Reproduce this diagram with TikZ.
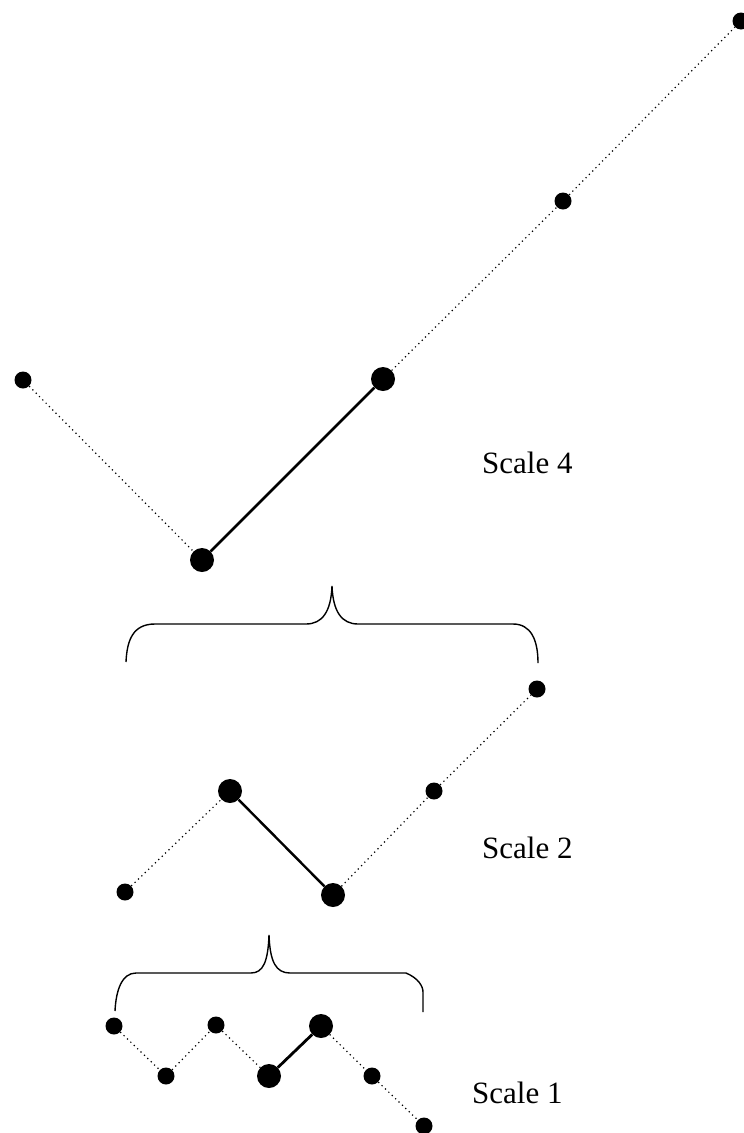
\documentclass[tikz,border=0pt]{standalone}
\usepackage{fontspec}
\setmainfont{Liberation Serif}
\begin{document}
\begin{tikzpicture}[x=1pt,y=-1pt,
  sdot/.style={circle,fill=black,inner sep=0pt,minimum size=17pt},
  bdot/.style={circle,fill=black,inner sep=0pt,minimum size=24pt},
  dotline/.style={line width=1.2pt,dash pattern=on 1.2pt off 3.5pt},
  solidline/.style={line width=2.8pt},
  brace/.style={line width=1.4pt},
  lbl/.style={anchor=base west,inner sep=0pt,font=\fontsize{31}{31}\selectfont}]
\useasboundingbox[fill=white] (0,0) rectangle (744,1133);
% Scale 4
\node[sdot] (a1) at (23,380) {};
\node[bdot] (a2) at (202,560) {};
\node[bdot] (a3) at (383,379) {};
\node[sdot] (a4) at (563,201) {};
\node[sdot] (a5) at (741,21) {};
\draw[dotline] (a1) -- (a2);
\draw[solidline] (a2) -- (a3);
\draw[dotline] (a3) -- (a4);
\draw[dotline] (a4) -- (a5);
\node[lbl] (l4) at (482,473) {Scale 4};
% brace 1
\coordinate (b1l) at (126,662);
\coordinate (b1r) at (538,663);
\draw[brace] (b1l) .. controls (127,640) and (133,624) .. (155,624) -- (306,624)
  .. controls (322,624) and (331,612) .. (332,586)
  .. controls (333,612) and (342,624) .. (358,624) -- (513,624)
  .. controls (531,624) and (538,640) .. (b1r);
% Scale 2
\node[sdot] (c1) at (125,892) {};
\node[bdot] (c2) at (230,791) {};
\node[bdot] (c3) at (333,895) {};
\node[sdot] (c4) at (434,791) {};
\node[sdot] (c5) at (537,689) {};
\draw[dotline] (c1) -- (c2);
\draw[solidline,line width=2.4pt] (c2) -- (c3);
\draw[dotline] (c3) -- (c4);
\draw[dotline] (c4) -- (c5);
\node[lbl] (l2) at (482,858) {Scale 2};
% brace 2
\coordinate (b2l) at (115,1011);
\coordinate (b2r) at (423,1012);
\draw[brace] (b2l) .. controls (116,990) and (122,973) .. (136,973) -- (251,973)
  .. controls (263,973) and (268,962) .. (269,935)
  .. controls (270,962) and (276,973) .. (290,973) -- (406,973)
  .. controls (418,978) and (423,986) .. (423,992) -- (b2r);
% Scale 1
\node[sdot] (d1) at (114,1026) {};
\node[sdot] (d2) at (166,1076) {};
\node[sdot] (d3) at (216,1025) {};
\node[bdot] (d4) at (269,1076) {};
\node[bdot] (d5) at (321,1026) {};
\node[sdot] (d6) at (372,1076) {};
\node[sdot] (d7) at (424,1126) {};
\draw[dotline] (d1) -- (d2);
\draw[dotline] (d2) -- (d3);
\draw[dotline] (d3) -- (d4);
\draw[solidline] (d4) -- (d5);
\draw[dotline] (d5) -- (d6);
\draw[dotline] (d6) -- (d7);
\node[lbl] (l1) at (472,1103) {Scale 1};
\end{tikzpicture}
\end{document}
